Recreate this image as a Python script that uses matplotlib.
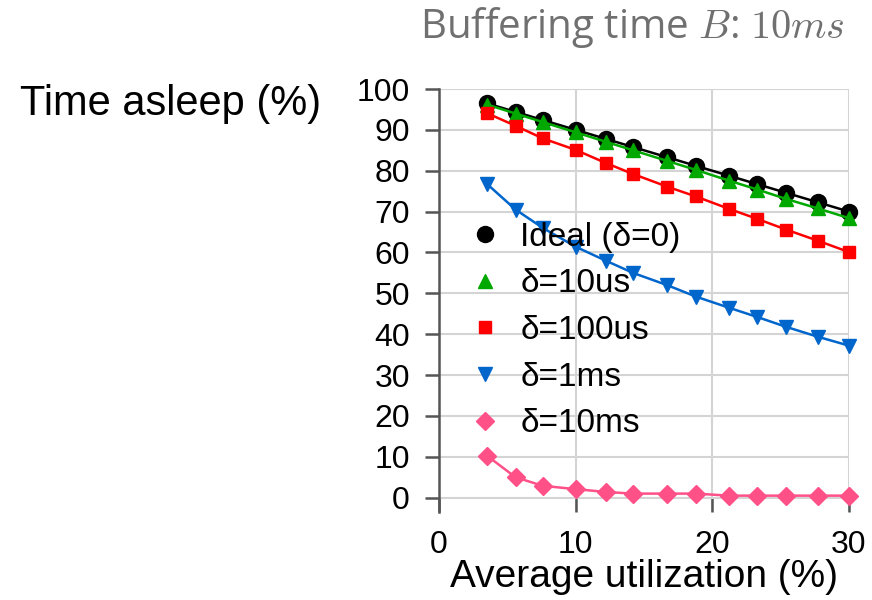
import matplotlib
matplotlib.use("Agg")
import matplotlib.pyplot as plt

plt.rcParams['font.family'] = ['Liberation Sans', 'DejaVu Sans']
plt.rcParams['mathtext.fontset'] = 'cm'

# average utilization (%)
util = [3.5, 5.6, 7.6, 10.0, 12.2, 14.2, 16.7, 18.8, 21.2, 23.3, 25.4, 27.7, 30.0]

# time asleep (%) per delta
ideal = [96.5, 94.4, 92.4, 90.0, 87.8, 85.8, 83.3, 81.2, 78.8, 76.7, 74.6, 72.3, 70.0]
d10us = [96.2, 94.0, 91.9, 89.4, 87.1, 85.0, 82.4, 80.2, 77.6, 75.4, 73.1, 70.8, 68.4]
d100us = [94.1, 91.0, 87.9, 85.1, 81.9, 79.2, 76.1, 73.7, 70.7, 68.2, 65.6, 62.9, 60.1]
d1ms = [76.8, 70.5, 66.0, 61.4, 58.0, 55.0, 52.0, 49.2, 46.5, 44.2, 41.8, 39.4, 37.2]
d10ms = [10.3, 5.0, 2.9, 2.1, 1.4, 1.0, 1.0, 1.0, 0.5, 0.5, 0.5, 0.5, 0.5]

labels = ["Ideal (\u03b4=0)", "\u03b4=10us", "\u03b4=100us", "\u03b4=1ms", "\u03b4=10ms"]
series = [ideal, d10us, d100us, d1ms, d10ms]
colors = ["#000000", "#00a800", "#ff0000", "#0066cc", "#ff5088"]
markers = ["o", "^", "s", "v", "D"]
msizes = [11.5, 10.5, 9, 10.5, 9]

fig = plt.figure(figsize=(8.72, 6.0), dpi=100)
ax = fig.add_axes([439 / 872, 1 - 512 / 600, 410 / 872, 423 / 600])

for vals, lab, c, m, ms in zip(series, labels, colors, markers, msizes):
    ax.plot(util, vals, color=c, marker=m, markersize=ms, linewidth=1.8,
            label=lab, clip_on=False, zorder=3)

ax.set_xlim(0, 30)
ax.set_ylim(-3.5, 100)
ax.set_xticks([0, 10, 20, 30])
ax.set_yticks(range(0, 101, 10))
ax.grid(True, color="#d4d4d4", linewidth=1.5)
ax.set_axisbelow(True)
for s in ["top", "right", "bottom"]:
    ax.spines[s].set_visible(False)
ax.spines["left"].set_linewidth(1.8)
ax.spines["left"].set_color("#555555")
ax.tick_params(axis="y", labelsize=23, length=10, width=1.8, color="#555555", pad=11)
ax.tick_params(axis="x", direction="in", labelsize=23, length=10, width=1.8,
               color="#555555", pad=13)
ax.set_xlabel("Average utilization (%)", fontsize=28, labelpad=-1)

leg = ax.legend(loc="upper left", bbox_to_anchor=(0.04, 0.718), frameon=False,
                fontsize=24, handlelength=1.0, handletextpad=0.55,
                labelspacing=0.47, borderaxespad=0)
for h in leg.legend_handles:
    h.set_linestyle("none")

fig.text(20 / 872, 1 - 104 / 600, "Time asleep (%)", fontsize=30,
         ha="left", va="center")
fig.text(845 / 872, 1 - 28 / 600, r"Buffering time $B$: $10ms$", fontsize=29,
         color="#707070", ha="right", va="center", family=["Open Sans", "DejaVu Sans"])

fig.savefig("out.png", dpi=100)
